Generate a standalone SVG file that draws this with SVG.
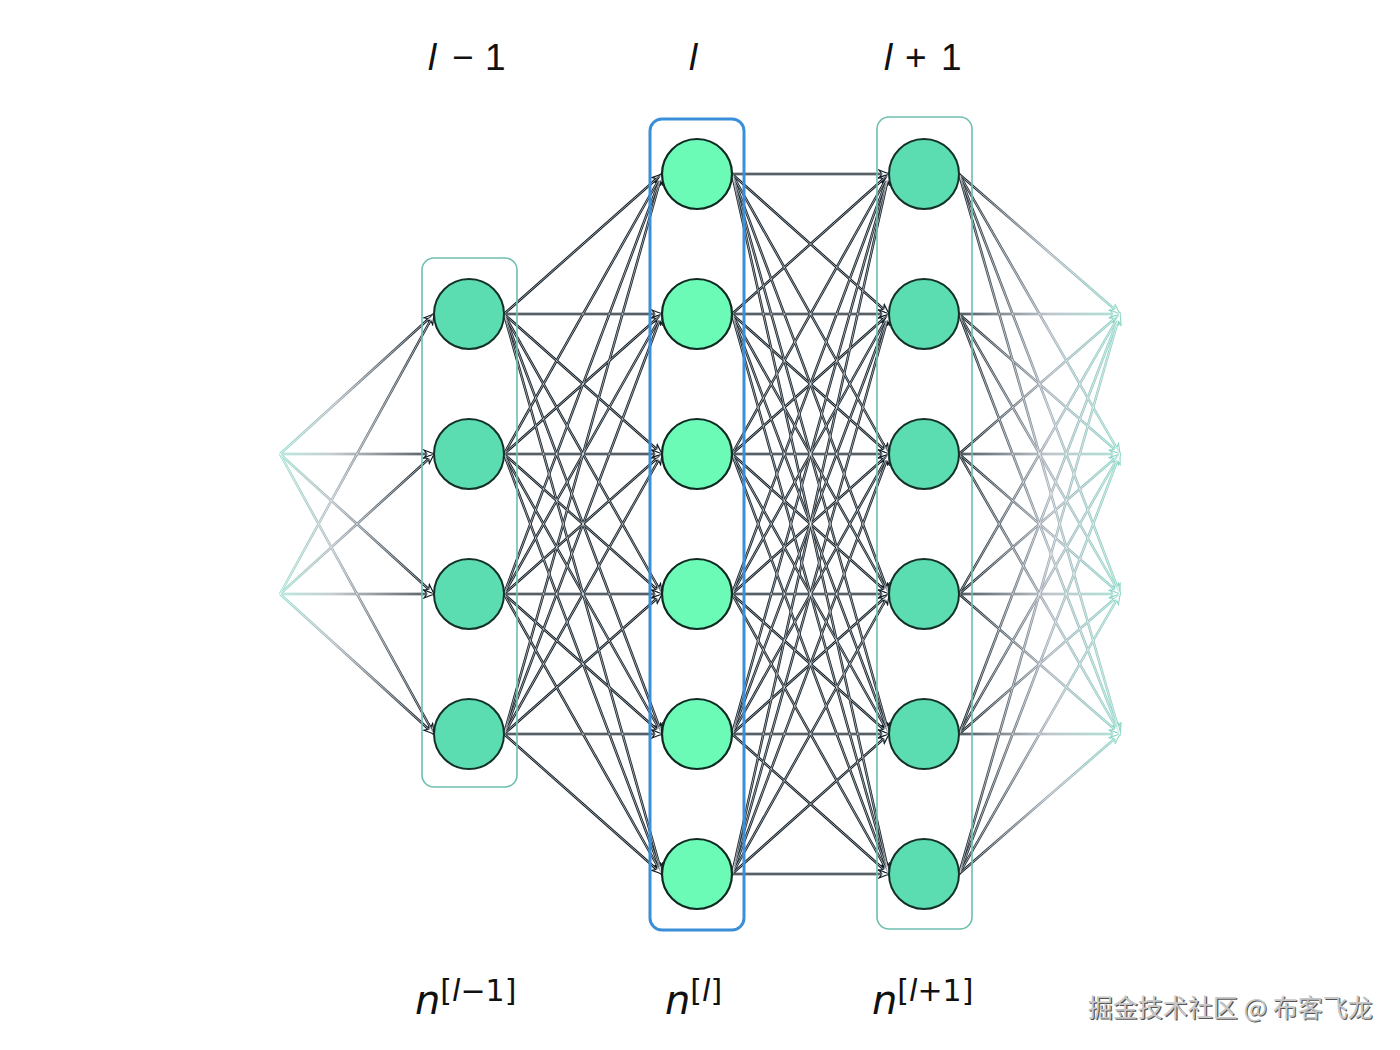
<svg xmlns="http://www.w3.org/2000/svg" xmlns:xlink="http://www.w3.org/1999/xlink" width="1400" height="1050" viewBox="0 0 1400 1050">
<style>
.lbl{font-family:"Liberation Sans","DejaVu Sans",sans-serif;font-size:37px;fill:#111}
.sub{font-family:"DejaVu Sans","Liberation Sans",sans-serif;fill:#111}
.it{font-style:italic}
.nodeA{fill:#5cdcb1;stroke:#14302a;stroke-width:2}
.nodeB{fill:#6cfbb6;stroke:#0f2a22;stroke-width:2.2}
.boxT{fill:none;stroke:#6fbfb0;stroke-width:1.6}
.boxB{fill:none;stroke:#3a8fd8;stroke-width:3}
.wm{font-family:"Noto Sans CJK SC","Liberation Sans",sans-serif;font-size:25px}
</style>
<defs>
<marker id="ah" markerUnits="userSpaceOnUse" markerWidth="14" markerHeight="12" refX="11" refY="5" orient="auto">
<path d="M1,1 L11,5 L1,9 L4,5 Z" fill="#fff" stroke="#111d26" stroke-width="1.2"/>
</marker>
<marker id="ahL" markerUnits="userSpaceOnUse" markerWidth="14" markerHeight="12" refX="11" refY="5" orient="auto">
<path d="M1,1 L11,5 L1,9 L4,5 Z" fill="#fff" stroke="#8fd6c6" stroke-width="1.1"/>
</marker>
<linearGradient id="gin" gradientUnits="userSpaceOnUse" x1="280" y1="0" x2="430" y2="0">
<stop offset="0" stop-color="#9fe0cf"/>
<stop offset="0.35" stop-color="#aeb7bf"/>
<stop offset="1" stop-color="#111d26"/>
</linearGradient>
<linearGradient id="gout" gradientUnits="userSpaceOnUse" x1="962" y1="0" x2="1120" y2="0">
<stop offset="0" stop-color="#111d26"/>
<stop offset="0.55" stop-color="#a3aeb8"/>
<stop offset="1" stop-color="#8fd8c8"/>
</linearGradient>
<g id="eMid">
<line x1="504" y1="314" x2="662" y2="174"/><line x1="504" y1="314" x2="662" y2="314"/><line x1="504" y1="314" x2="662" y2="454"/><line x1="504" y1="314" x2="662" y2="594"/><line x1="504" y1="314" x2="662" y2="734"/><line x1="504" y1="314" x2="662" y2="874"/>
<line x1="504" y1="454" x2="662" y2="174"/><line x1="504" y1="454" x2="662" y2="314"/><line x1="504" y1="454" x2="662" y2="454"/><line x1="504" y1="454" x2="662" y2="594"/><line x1="504" y1="454" x2="662" y2="734"/><line x1="504" y1="454" x2="662" y2="874"/>
<line x1="504" y1="594" x2="662" y2="174"/><line x1="504" y1="594" x2="662" y2="314"/><line x1="504" y1="594" x2="662" y2="454"/><line x1="504" y1="594" x2="662" y2="594"/><line x1="504" y1="594" x2="662" y2="734"/><line x1="504" y1="594" x2="662" y2="874"/>
<line x1="504" y1="734" x2="662" y2="174"/><line x1="504" y1="734" x2="662" y2="314"/><line x1="504" y1="734" x2="662" y2="454"/><line x1="504" y1="734" x2="662" y2="594"/><line x1="504" y1="734" x2="662" y2="734"/><line x1="504" y1="734" x2="662" y2="874"/>
<line x1="732" y1="174" x2="889" y2="174"/><line x1="732" y1="174" x2="889" y2="314"/><line x1="732" y1="174" x2="889" y2="454"/><line x1="732" y1="174" x2="889" y2="594"/><line x1="732" y1="174" x2="889" y2="734"/><line x1="732" y1="174" x2="889" y2="874"/>
<line x1="732" y1="314" x2="889" y2="174"/><line x1="732" y1="314" x2="889" y2="314"/><line x1="732" y1="314" x2="889" y2="454"/><line x1="732" y1="314" x2="889" y2="594"/><line x1="732" y1="314" x2="889" y2="734"/><line x1="732" y1="314" x2="889" y2="874"/>
<line x1="732" y1="454" x2="889" y2="174"/><line x1="732" y1="454" x2="889" y2="314"/><line x1="732" y1="454" x2="889" y2="454"/><line x1="732" y1="454" x2="889" y2="594"/><line x1="732" y1="454" x2="889" y2="734"/><line x1="732" y1="454" x2="889" y2="874"/>
<line x1="732" y1="594" x2="889" y2="174"/><line x1="732" y1="594" x2="889" y2="314"/><line x1="732" y1="594" x2="889" y2="454"/><line x1="732" y1="594" x2="889" y2="594"/><line x1="732" y1="594" x2="889" y2="734"/><line x1="732" y1="594" x2="889" y2="874"/>
<line x1="732" y1="734" x2="889" y2="174"/><line x1="732" y1="734" x2="889" y2="314"/><line x1="732" y1="734" x2="889" y2="454"/><line x1="732" y1="734" x2="889" y2="594"/><line x1="732" y1="734" x2="889" y2="734"/><line x1="732" y1="734" x2="889" y2="874"/>
<line x1="732" y1="874" x2="889" y2="174"/><line x1="732" y1="874" x2="889" y2="314"/><line x1="732" y1="874" x2="889" y2="454"/><line x1="732" y1="874" x2="889" y2="594"/><line x1="732" y1="874" x2="889" y2="734"/><line x1="732" y1="874" x2="889" y2="874"/>
</g>
<g id="eIn">
<line x1="280" y1="454" x2="434" y2="314"/><line x1="280" y1="454" x2="434" y2="454"/><line x1="280" y1="454" x2="434" y2="594"/><line x1="280" y1="454" x2="434" y2="734"/>
<line x1="280" y1="594" x2="434" y2="314"/><line x1="280" y1="594" x2="434" y2="454"/><line x1="280" y1="594" x2="434" y2="594"/><line x1="280" y1="594" x2="434" y2="734"/>
</g>
<g id="eOut">
<line x1="959" y1="174" x2="1120" y2="314"/><line x1="959" y1="174" x2="1120" y2="454"/><line x1="959" y1="174" x2="1120" y2="594"/><line x1="959" y1="174" x2="1120" y2="734"/>
<line x1="959" y1="314" x2="1120" y2="314"/><line x1="959" y1="314" x2="1120" y2="454"/><line x1="959" y1="314" x2="1120" y2="594"/><line x1="959" y1="314" x2="1120" y2="734"/>
<line x1="959" y1="454" x2="1120" y2="314"/><line x1="959" y1="454" x2="1120" y2="454"/><line x1="959" y1="454" x2="1120" y2="594"/><line x1="959" y1="454" x2="1120" y2="734"/>
<line x1="959" y1="594" x2="1120" y2="314"/><line x1="959" y1="594" x2="1120" y2="454"/><line x1="959" y1="594" x2="1120" y2="594"/><line x1="959" y1="594" x2="1120" y2="734"/>
<line x1="959" y1="734" x2="1120" y2="314"/><line x1="959" y1="734" x2="1120" y2="454"/><line x1="959" y1="734" x2="1120" y2="594"/><line x1="959" y1="734" x2="1120" y2="734"/>
<line x1="959" y1="874" x2="1120" y2="314"/><line x1="959" y1="874" x2="1120" y2="454"/><line x1="959" y1="874" x2="1120" y2="594"/><line x1="959" y1="874" x2="1120" y2="734"/>
</g>
</defs>
<rect width="1400" height="1050" fill="#fff"/>
<g id="connectors" fill="none">
<use xlink:href="#eIn" href="#eIn" stroke="url(#gin)" stroke-width="2.5" marker-end="url(#ah)"/>
<use xlink:href="#eIn" href="#eIn" stroke="#fff" stroke-width="0.6"/>
<use xlink:href="#eOut" href="#eOut" stroke="url(#gout)" stroke-width="2.5" marker-end="url(#ahL)"/>
<use xlink:href="#eOut" href="#eOut" stroke="#fff" stroke-width="0.6"/>
<use xlink:href="#eMid" href="#eMid" stroke="#111d26" stroke-width="2.5" marker-end="url(#ah)"/>
<use xlink:href="#eMid" href="#eMid" stroke="#fff" stroke-width="0.6"/>
</g>
<g id="box-l-minus-1"><rect class="boxT" x="422" y="258" width="95" height="529" rx="12"/></g>
<g id="box-l"><rect class="boxB" x="650" y="119" width="94" height="811" rx="12"/></g>
<g id="box-l-plus-1"><rect class="boxT" x="877" y="117" width="95" height="812" rx="12"/></g>
<g id="layer-l-minus-1">
<g id="a1"><circle class="nodeA" cx="469" cy="314" r="35"/></g>
<g id="a2"><circle class="nodeA" cx="469" cy="454" r="35"/></g>
<g id="a3"><circle class="nodeA" cx="469" cy="594" r="35"/></g>
<g id="a4"><circle class="nodeA" cx="469" cy="734" r="35"/></g>
</g>
<g id="layer-l">
<g id="b1"><circle class="nodeB" cx="697" cy="174" r="35"/></g>
<g id="b2"><circle class="nodeB" cx="697" cy="314" r="35"/></g>
<g id="b3"><circle class="nodeB" cx="697" cy="454" r="35"/></g>
<g id="b4"><circle class="nodeB" cx="697" cy="594" r="35"/></g>
<g id="b5"><circle class="nodeB" cx="697" cy="734" r="35"/></g>
<g id="b6"><circle class="nodeB" cx="697" cy="874" r="35"/></g>
</g>
<g id="layer-l-plus-1">
<g id="c1"><circle class="nodeA" cx="924" cy="174" r="35"/></g>
<g id="c2"><circle class="nodeA" cx="924" cy="314" r="35"/></g>
<g id="c3"><circle class="nodeA" cx="924" cy="454" r="35"/></g>
<g id="c4"><circle class="nodeA" cx="924" cy="594" r="35"/></g>
<g id="c5"><circle class="nodeA" cx="924" cy="734" r="35"/></g>
<g id="c6"><circle class="nodeA" cx="924" cy="874" r="35"/></g>
</g>
<g id="labels">
<text class="lbl" y="70"><tspan class="it" x="428">l</tspan><tspan x="452">−</tspan><tspan x="485">1</tspan></text>
<text class="lbl" y="70"><tspan class="it" x="689">l</tspan></text>
<text class="lbl" y="70"><tspan class="it" x="884">l</tspan><tspan x="905">+</tspan><tspan x="941">1</tspan></text>
<text class="sub" x="415" y="1014" font-size="40"><tspan class="it">n</tspan><tspan font-size="30" dy="-13">[<tspan class="it">l</tspan>−1]</tspan></text>
<text class="sub" x="665" y="1014" font-size="40"><tspan class="it">n</tspan><tspan font-size="30" dy="-13">[<tspan class="it">l</tspan>]</tspan></text>
<text class="sub" x="872" y="1014" font-size="40"><tspan class="it">n</tspan><tspan font-size="30" dy="-13">[<tspan class="it">l</tspan>+1]</tspan></text>
</g>
<g id="watermark">
<text class="wm" x="1089" y="1018" fill="#555">掘金技术社区 @ 布客飞龙</text>
<text class="wm" x="1087.8" y="1016.8" fill="#c8c8c8">掘金技术社区 @ 布客飞龙</text>
</g>
</svg>
